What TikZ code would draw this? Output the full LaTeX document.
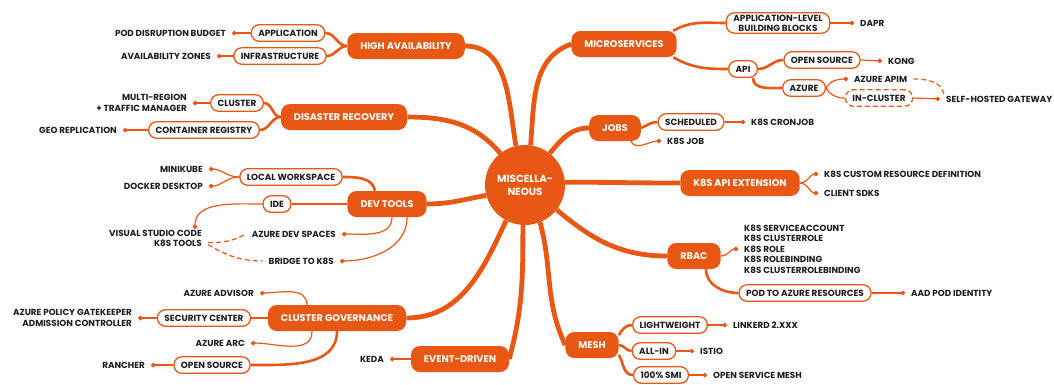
\documentclass[tikz,border=0pt]{standalone}
\usepackage{fontspec}
\setmainfont{Poppins}
\usetikzlibrary{arrows.meta, positioning, backgrounds}
\definecolor{mindorange}{RGB}{232,88,20}
\definecolor{leafgray}{RGB}{30,30,30}

\begin{document}
\begin{tikzpicture}[
    x=1pt, y=1pt,
    hub/.style={circle, fill=mindorange, text=white, font=\fontsize{10.3}{13}\selectfont\bfseries, align=center, minimum size=80pt, inner sep=0pt},
    topic/.style={rectangle, rounded corners=9pt, fill=mindorange, text=white, font=\fontsize{9.7}{11}\selectfont\bfseries, minimum height=26pt, inner xsep=13pt},
    subtopic/.style={rectangle, rounded corners=8pt, draw=mindorange, line width=1.3pt, fill=white, text=leafgray, font=\fontsize{8.9}{10}\selectfont\bfseries, minimum height=16.5pt, inner xsep=7pt, inner ysep=2pt, align=center},
    leaf/.style={text=leafgray, font=\fontsize{8.8}{10.4}\selectfont\bfseries, inner xsep=6pt, inner ysep=1pt},
    spoke/.style={draw=mindorange, line width=4.8pt},
    stem/.style={draw=mindorange, line width=2.6pt},
    twig/.style={draw=mindorange, line width=1.2pt},
    leafline/.style={twig, -{Circle[length=4.5pt]}},
    hint/.style={twig, dash pattern=on 5pt off 3pt}
]
    \useasboundingbox (0,0) rectangle (1054,-384);

    % Centre
    \node[hub] (misc) at (525,-185) {MISCELLA-\\NEOUS};

    % Topics
    \node[topic] (ha) at (406,-46) {HIGH AVAILABILITY};
    \node[topic] (dr) at (344,-117) {DISASTER RECOVERY};
    \node[topic] (dev) at (387,-204) {DEV TOOLS};
    \node[topic] (gov) at (337,-318) {CLUSTER GOVERNANCE};
    \node[topic] (evt) at (460,-359) {EVENT-DRIVEN};
    \node[topic] (micro) at (624,-44) {MICROSERVICES};
    \node[topic] (jobs) at (615,-128) {JOBS};
    \node[topic] (ext) at (740,-183) {K8S API EXTENSION};
    \node[topic] (rbac) at (694,-256) {RBAC};
    \node[topic] (mesh) at (592,-345) {MESH};

    % Subtopics
    \node[subtopic] (app) at (288,-33) {APPLICATION};
    \node[subtopic] (infra) at (280,-56) {INFRASTRUCTURE};
    \node[subtopic] (cluster) at (237,-103) {CLUSTER};
    \node[subtopic] (registry) at (204,-130) {CONTAINER REGISTRY};
    \node[subtopic] (local) at (291,-177) {LOCAL WORKSPACE};
    \node[subtopic] (ide) at (277,-204) {IDE};
    \node[subtopic] (security) at (204,-318) {SECURITY CENTER};
    \node[subtopic] (govoss) at (212,-365) {OPEN SOURCE};
    \node[subtopic] (blocks) at (778,-23) {APPLICATION-LEVEL\\BUILDING BLOCKS};
    \node[subtopic] (api) at (743,-69) {API};
    \node[subtopic] (apioss) at (822,-60) {OPEN SOURCE};
    \node[subtopic] (azure) at (804,-88) {AZURE};
    \node[subtopic, dash pattern=on 5pt off 3pt] (incluster) at (879,-98) {IN-CLUSTER};
    \node[subtopic] (sched) at (691,-122) {SCHEDULED};
    \node[subtopic] (podaz) at (805,-293) {POD TO AZURE RESOURCES};
    \node[subtopic] (light) at (670,-325) {LIGHTWEIGHT};
    \node[subtopic] (allin) at (654,-351) {ALL-IN};
    \node[subtopic] (smi) at (661,-375) {100\% SMI};

    % Leaves, left half
    \node[leaf, anchor=east] (pdb) at (232,-33) {POD DISRUPTION BUDGET};
    \node[leaf, anchor=east] (zones) at (217,-56) {AVAILABILITY ZONES};
    \node[leaf, anchor=east, align=right] (multi) at (193,-103) {MULTI-REGION\\+ TRAFFIC MANAGER};
    \node[leaf, anchor=east] (geo) at (123,-130) {GEO REPLICATION};
    \node[leaf, anchor=east] (minikube) at (209,-169) {MINIKUBE};
    \node[leaf, anchor=east] (docker) at (209,-186) {DOCKER DESKTOP};
    \node[leaf, anchor=north east, align=right] (vscode) at (208,-229) {VISUAL STUDIO CODE\\K8S TOOLS};
    \node[leaf, anchor=east] (devspaces) at (342,-234) {AZURE DEV SPACES};
    \node[leaf, anchor=east] (bridge) at (340,-261) {BRIDGE TO K8S};
    \node[leaf, anchor=east] (advisor) at (260,-293) {AZURE ADVISOR};
    \node[leaf, anchor=east, align=right] (gatekeeper) at (138,-318) {AZURE POLICY GATEKEEPER\\ADMISSION CONTROLLER};
    \node[leaf, anchor=east] (arc) at (251,-343) {AZURE ARC};
    \node[leaf, anchor=east] (rancher) at (151,-365) {RANCHER};
    \node[leaf, anchor=east] (keda) at (390,-359) {KEDA};

    % Leaves, right half
    \node[leaf, anchor=west] (dapr) at (854,-23) {DAPR};
    \node[leaf, anchor=west] (kong) at (882,-61) {KONG};
    \node[leaf, anchor=west] (apim) at (848,-79) {AZURE APIM};
    \node[leaf, anchor=west] (gateway) at (940,-99) {SELF-HOSTED GATEWAY};
    \node[leaf, anchor=west] (cronjob) at (745,-122) {K8S CRONJOB};
    \node[leaf, anchor=west] (job) at (661,-141) {K8S JOB};
    \node[leaf, anchor=west] (crd) at (818,-174) {K8S CUSTOM RESOURCE DEFINITION};
    \node[leaf, anchor=west] (sdks) at (818,-193) {CLIENT SDKS};
    \node[leaf, anchor=west, align=left] (roles) at (738,-249) {K8S SERVICEACCOUNT\\K8S CLUSTERROLE\\K8S ROLE\\K8S ROLEBINDING\\K8S CLUSTERROLEBINDING};
    \node[leaf, anchor=west] (aadpod) at (905,-293) {AAD POD IDENTITY};
    \node[leaf, anchor=west] (linkerd) at (727,-325) {LINKERD 2.XXX};
    \node[leaf, anchor=west] (istio) at (694,-351) {ISTIO};
    \node[leaf, anchor=west] (osm) at (707,-375) {OPEN SERVICE MESH};

    \begin{scope}[on background layer]
        % Centre to topics
        \draw[spoke] (misc.103) to[out=100, in=0] (ha.east);
        \draw[spoke] (misc.82) to[out=85, in=200] (micro.west);
        \draw[spoke] (misc.128) to[out=130, in=0] (dr.east);
        \draw[spoke] (misc.195) to[out=190, in=0] (dev.east);
        \draw[spoke] (misc.-118) to[out=-115, in=0] (gov.east);
        \draw[spoke] (misc.-93) to[out=-90, in=75] (evt.east);
        \draw[spoke] (misc.-68) to[out=-75, in=115] (mesh.west);
        \draw[spoke] (misc.-38) to[out=-40, in=180] (rbac.west);
        \draw[spoke] (misc.4) to[out=0, in=180] (ext.west);
        \draw[spoke] (misc.52) to[out=50, in=180] (jobs.west);

        % Topics to subtopics
        \draw[stem] (ha.west) to[out=180, in=0] (app.east);
        \draw[stem] (ha.west) to[out=180, in=0] (infra.east);
        \draw[stem] (dr.west) to[out=180, in=0] (cluster.east);
        \draw[stem] (dr.west) to[out=180, in=0] (registry.east);
        \draw[stem] (dev.west) -- (ide.east);
        \draw[stem] (local.east) to[out=0, in=100] ([xshift=-12pt]dev.north);
        \draw[stem] (gov.west) -- (security.east);
        \draw[stem] (gov.south) to[out=-90, in=0] (govoss.east);
        \draw[stem] (micro.15) to[out=30, in=180] (blocks.west);
        \draw[stem] (micro.-15) to[out=-30, in=180] (api.west);
        \draw[stem] (api.east) to[out=0, in=180] (apioss.west);
        \draw[stem] ([xshift=10pt]api.south) to[out=-90, in=180] (azure.west);
        \draw[stem] (jobs.east) to[out=20, in=180] (sched.west);
        \draw[stem] ([xshift=12pt]rbac.south) to[out=-90, in=180] (podaz.west);
        \draw[stem] (mesh.20) to[out=60, in=180] (light.west);
        \draw[stem] (mesh.east) to[out=0, in=180] (allin.west);
        \draw[stem] (mesh.-20) to[out=-60, in=180] (smi.west);
        \draw[twig] (azure.east) to[out=-60, in=180] (incluster.west);

        % Leaf links
        \draw[leafline] (app.west) -- (pdb.east);
        \draw[leafline] (infra.west) -- (zones.east);
        \draw[leafline] (cluster.west) -- (multi.east);
        \draw[leafline] (registry.west) -- (geo.east);
        \draw[leafline] (local.west) to[out=180, in=0] (minikube.east);
        \draw[leafline] (local.west) to[out=180, in=0] (docker.east);
        \draw[leafline] (ide.west) to[out=180, in=90] ([xshift=-13pt]vscode.north east);
        \draw[leafline] ([xshift=5pt]dev.south) to[out=-90, in=0] (devspaces.east);
        \draw[leafline] ([xshift=20pt]dev.south) to[out=-90, in=0] (bridge.east);
        \draw[leafline] ([xshift=-30pt]gov.north) to[out=90, in=0] (advisor.east);
        \draw[leafline] ([xshift=-25pt]gov.south) to[out=-90, in=0] (arc.east);
        \draw[leafline] (security.west) -- (gatekeeper.east);
        \draw[leafline] (govoss.west) -- (rancher.east);
        \draw[leafline] (evt.west) -- (keda.east);
        \draw[leafline] (blocks.east) -- (dapr.west);
        \draw[leafline] (apioss.east) -- (kong.west);
        \draw[leafline] (azure.east) to[out=60, in=180] (apim.west);
        \draw[leafline] (incluster.east) -- (gateway.west);
        \draw[leafline] (sched.east) -- (cronjob.west);
        \draw[leafline] (jobs.-40) to[out=-60, in=180] (job.west);
        \draw[leafline] (ext.east) to[out=0, in=180] (crd.west);
        \draw[leafline] (ext.east) to[out=0, in=180] (sdks.west);
        \draw[leafline] (rbac.east) to[out=0, in=180] (roles.west);
        \draw[leafline] (podaz.east) -- (aadpod.west);
        \draw[leafline] (light.east) -- (linkerd.west);
        \draw[leafline] (allin.east) -- (istio.west);
        \draw[leafline] (smi.east) -- (osm.west);

        % Alternatives
        \draw[hint] ([yshift=-4pt]vscode.east) to[out=0, in=210] (devspaces.west);
        \draw[hint] ([yshift=-6pt]vscode.east) to[out=-30, in=180] (bridge.west);
        \draw[hint] (apim.east) to[out=0, in=100] ([xshift=4pt]gateway.north west);
    \end{scope}
\end{tikzpicture}
\end{document}
